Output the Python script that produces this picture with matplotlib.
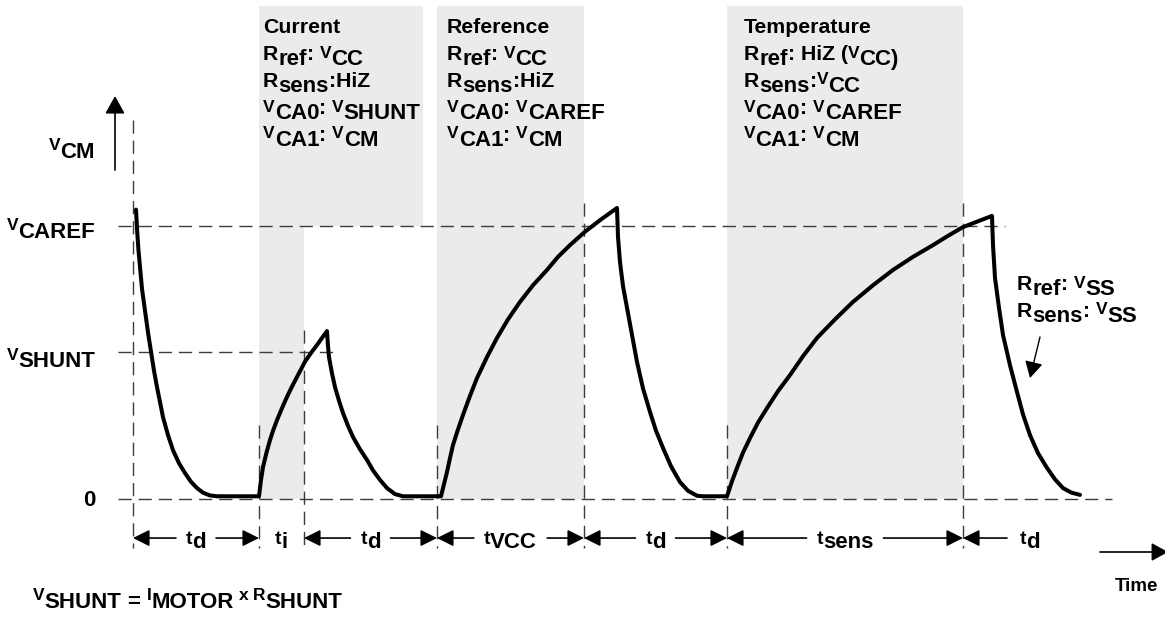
import matplotlib
matplotlib.use('Agg')
import matplotlib.pyplot as plt
from matplotlib.font_manager import FontProperties
from matplotlib.transforms import Affine2D, offset_copy

# ---------------- data ----------------
V_CAREF = 1.0
V_SHUNT = 0.538
V_ZERO = 0.0

# phase boundaries (time, arbitrary units) and the duration labels between them
phase_bounds = [0.0, 12.6, 17.1, 30.4, 45.1, 59.4, 83.0]
phase_subs = ['d', 'i', 'd', 'VCC', 'd', 'sens', 'd']

# capacitor voltage V_CM (V_CAREF = 1)
decay1_t = [0.3, 0.4, 0.55, 0.7, 0.9, 1.2, 1.5, 1.8, 2.1, 2.4, 2.7, 3.0, 3.5, 4.0,
            4.6, 5.2, 5.8, 6.4, 7.0, 7.7, 8.4, 12.6]
decay1_v = [1.06, 0.99, 0.91, 0.85, 0.77, 0.69, 0.61, 0.54, 0.47, 0.41, 0.355, 0.30,
            0.234, 0.179, 0.131, 0.095, 0.063, 0.040, 0.023, 0.013, 0.01, 0.01]
rise1_t = [12.6, 12.8, 13.0, 13.35, 13.7, 14.0, 14.4, 14.9, 15.4, 15.9, 16.4, 17.2,
           17.8, 18.4, 18.9, 19.4]
rise1_v = [0.01, 0.07, 0.117, 0.17, 0.216, 0.25, 0.289, 0.333, 0.374, 0.412, 0.447,
           0.503, 0.535, 0.564, 0.59, 0.615]
decay2_t = [19.4, 19.5, 19.6, 19.9, 20.2, 20.6, 21.0, 21.5, 22.0, 22.7, 23.4, 24.0,
            24.7, 25.4, 26.2, 27.0, 30.8]
decay2_v = [0.615, 0.56, 0.52, 0.46, 0.41, 0.36, 0.315, 0.268, 0.227, 0.182, 0.143,
            0.105, 0.070, 0.040, 0.018, 0.01, 0.01]
rise2_t = [30.8, 31.1, 31.4, 31.7, 32.0, 32.5, 33.0, 33.7, 34.4, 35.4, 36.4, 37.5,
           38.7, 40.0, 41.4, 42.5, 43.7, 45.2, 46.8, 48.4]
rise2_v = [0.01, 0.055, 0.099, 0.15, 0.198, 0.255, 0.308, 0.378, 0.443, 0.52, 0.590,
           0.658, 0.722, 0.783, 0.839, 0.887, 0.930, 0.979, 1.024, 1.066]
decay3_t = [48.4, 48.5, 48.7, 49.0, 49.4, 49.9, 50.4, 51.0, 51.7, 52.3, 53.0, 53.8,
            54.7, 55.5, 56.4, 57.0, 59.4]
decay3_v = [1.066, 0.96, 0.868, 0.78, 0.700, 0.60, 0.502, 0.405, 0.319, 0.25, 0.187,
            0.12, 0.062, 0.03, 0.012, 0.01, 0.01]
rise3_t = [59.4, 59.9, 60.4, 61.0, 61.7, 62.5, 63.4, 64.5, 65.7, 67.0, 68.4, 70.2,
           72.0, 74.0, 76.0, 78.0, 80.0, 81.5, 83.0, 84.5, 85.9]
rise3_v = [0.01, 0.065, 0.114, 0.17, 0.223, 0.28, 0.333, 0.395, 0.454, 0.523, 0.590,
           0.658, 0.722, 0.783, 0.839, 0.887, 0.930, 0.964, 0.996, 1.017, 1.037]
decay4_t = [85.9, 86.0, 86.2, 86.6, 87.0, 87.7, 88.4, 89.0, 89.7, 90.5, 91.4, 92.2,
            93.0, 93.8, 94.7]
decay4_v = [1.037, 0.93, 0.810, 0.70, 0.601, 0.49, 0.392, 0.31, 0.234, 0.168, 0.114,
            0.072, 0.040, 0.024, 0.015]

# shaded measurement windows: (t_start, t_end, v_bottom)
shade_t0 = [12.6, 12.6, 30.4, 59.4]
shade_t1 = [29.0, 17.1, 45.1, 83.0]
shade_v0 = [V_CAREF, 0.0, 0.0, 0.0]
V_TOP = 1.806

# dashed guide lines
hline_levels = [V_CAREF, V_SHUNT, V_ZERO]
hline_end = [87.2, 20.4, 97.9]
vline_top = [1.388, 0.271, 0.619, 0.271, 1.084, 0.271, 1.084]

# texts (segments: (text, style)); N = main, S = subscript, v = small raised V
panel_current = [[('Current', 'N')],
                 [('R', 'N'), ('ref', 'S'), (': ', 'N'), ('V', 'v'), ('CC', 'S')],
                 [('R', 'N'), ('sens', 'S'), (':HiZ', 'N')],
                 [('V', 'v'), ('CA0', 'S'), (': ', 'N'), ('V', 'v'), ('SHUNT', 'S')],
                 [('V', 'v'), ('CA1', 'S'), (': ', 'N'), ('V', 'v'), ('CM', 'S')]]
panel_reference = [[('Reference', 'N')],
                   [('R', 'N'), ('ref', 'S'), (': ', 'N'), ('V', 'v'), ('CC', 'S')],
                   [('R', 'N'), ('sens', 'S'), (':HiZ', 'N')],
                   [('V', 'v'), ('CA0', 'S'), (': ', 'N'), ('V', 'v'), ('CAREF', 'S')],
                   [('V', 'v'), ('CA1', 'S'), (': ', 'N'), ('V', 'v'), ('CM', 'S')]]
panel_temperature = [[('Temperature', 'N')],
                     [('R', 'N'), ('ref', 'S'), (': HiZ (', 'N'), ('V', 'v'), ('CC)', 'S')],
                     [('R', 'N'), ('sens', 'S'), (':', 'N'), ('V', 'v'), ('CC', 'S')],
                     [('V', 'v'), ('CA0', 'S'), (': ', 'N'), ('V', 'v'), ('CAREF', 'S')],
                     [('V', 'v'), ('CA1', 'S'), (': ', 'N'), ('V', 'v'), ('CM', 'S')]]
discharge_note = [[('R', 'N'), ('ref', 'S'), (': ', 'N'), ('V', 'v'), ('SS', 'S')],
                  [('R', 'N'), ('sens', 'S'), (': ', 'N'), ('V', 'v'), ('SS', 'S')]]
ylabels = [[('V', 'v'), ('CM', 'S')],
           [('V', 'v'), ('CAREF', 'S')],
           [('V', 'v'), ('SHUNT', 'S')],
           [('0', 'S')]]
formula = [('V', 'v'), ('SHUNT', 'S'), (' = ', 'S'), ('I', 'v'), ('MOTOR', 'S'),
           (' x ', 'v'), ('R', 'v'), ('SHUNT', 'S')]
time_label = [('Time', 'L')]

# ---------------- drawing ----------------
plt.rcParams['lines.scale_dashes'] = False
FONT = 'Liberation Sans'
GRAY = '#ebebeb'
DASHC = '#3c3c3c'
DASH = (0, (9.5, 5.0))
STY = {'N': (15.3, 5), 'S': (16.0, 0), 'v': (12.5, 7.5), 'L': (13.5, 0)}

fig = plt.figure(figsize=(11.65, 6.2), dpi=100)
ax = fig.add_axes([0, 0, 1, 1])
ax.set_xlim(-13.3, 103.2)
ax.set_ylim(-0.4432, 1.8278)
ax.axis('off')
renderer = fig.canvas.get_renderer()
PIX = Affine2D().scale(1, -1).translate(0, 620)   # pixel coords, origin top-left


def text_w(s, prop):
    wb = renderer.get_text_width_height_descent('||', prop, ismath=False)[0]
    w = renderer.get_text_width_height_descent('|' + s + '|', prop, ismath=False)[0]
    return w - wb


def rich(x, y, parts, trans, ha='left', styles=STY):
    items, total = [], 0.0
    for s, st in parts:
        size, rise = styles[st]
        prop = FontProperties(family=FONT, weight='bold', size=size)
        lead = len(s) - len(s.lstrip(' '))
        dx = text_w(' ' * lead, prop) if lead else 0.0
        items.append((s.strip(' '), prop, rise, total + dx))
        total += text_w(s, prop)
    shift = {'left': 0.0, 'center': -total / 2, 'right': -total}[ha]
    for s, prop, rise, dx in items:
        if s:
            tr = offset_copy(trans, fig=fig, x=dx + shift, y=rise, units='dots')
            ax.text(x, y, s, transform=tr, fontproperties=prop, va='baseline',
                    ha='left', color='black')
    return total


# shading
for t0, t1, v0 in zip(shade_t0, shade_t1, shade_v0):
    ax.fill_between([t0, t1], [v0, v0], [V_TOP, V_TOP], color=GRAY, lw=0, zorder=0)

# dashed guides
for lev, tend in zip(hline_levels, hline_end):
    ax.plot([-1.5, tend], [lev, lev], color=DASHC, lw=1.0, linestyle=DASH, zorder=1)
for tb, top in zip(phase_bounds, vline_top):
    ax.plot([tb, tb], [top, -0.179], color=DASHC, lw=1.0, linestyle=DASH, zorder=1)

# waveform
curve_t = decay1_t + rise1_t + decay2_t + rise2_t + decay3_t + rise3_t + decay4_t
curve_v = decay1_v + rise1_v + decay2_v + rise2_v + decay3_v + rise3_v + decay4_v
ax.plot(curve_t, curve_v, color='black', lw=2.9, solid_joinstyle='round',
        solid_capstyle='round', zorder=3)

# axis arrows
ax.annotate('', xy=(115, 96), xytext=(115, 170), xycoords=PIX, textcoords=PIX,
            arrowprops=dict(arrowstyle='-|>,head_length=1.08,head_width=0.6',
                            color='black', lw=1.2, shrinkA=0, shrinkB=0,
                            mutation_scale=10))
ax.annotate('', xy=(1168, 552), xytext=(1100, 552), xycoords=PIX, textcoords=PIX,
            arrowprops=dict(arrowstyle='-|>,head_length=1.0,head_width=0.55',
                            color='black', lw=1.2, shrinkA=0, shrinkB=0,
                            mutation_scale=10))
rich(1115, 591, time_label, PIX)

# dimension arrows with t_x labels
Y_DIM = -0.143
Y_LAB = -0.179
ppu = ax.transData.transform((1, 0))[0] - ax.transData.transform((0, 0))[0]
DIM_STY = {'T': (14.0, 4), 'S': (16.0, 0)}
GAP = 10.0
ends = phase_bounds[1:] + [None]
arrow_kw = dict(arrowstyle='-|>,head_length=1.0,head_width=0.5', color='black',
                lw=1.2, shrinkA=0, shrinkB=0, mutation_scale=10)
for t0, t1, sub in zip(phase_bounds, ends, phase_subs):
    parts = [('t', 'T'), (sub, 'S')]
    if t1 is None:
        t_line_end = t0 + 44 / ppu
        ax.annotate('', xy=(t0, Y_DIM), xytext=(t_line_end, Y_DIM), arrowprops=arrow_kw)
        rich(t0 + 57 / ppu, Y_LAB, parts, ax.transData, ha='left', styles=DIM_STY)
        continue
    tc = (t0 + t1) / 2
    w = 0.0
    for s, st in parts:
        w += text_w(s, FontProperties(family=FONT, weight='bold', size=DIM_STY[st][0]))
    if (t1 - t0) * ppu > w + 2 * GAP + 30:
        ax.annotate('', xy=(t0, Y_DIM), xytext=(tc - (w / 2 + GAP) / ppu, Y_DIM),
                    arrowprops=arrow_kw)
        ax.annotate('', xy=(t1, Y_DIM), xytext=(tc + (w / 2 + GAP) / ppu, Y_DIM),
                    arrowprops=arrow_kw)
    rich(tc, Y_LAB, parts, ax.transData, ha='center', styles=DIM_STY)

# panel texts
LINE_BASE = [38, 65, 92, 119, 146]
for px, panel in zip([263, 447, 744], [panel_current, panel_reference, panel_temperature]):
    for i, line in enumerate(panel):
        rich(px, LINE_BASE[i], line, PIX)

# discharge note with arrow
for i, line in enumerate(discharge_note):
    rich(1017, 295 + 27 * i, line, PIX)
ax.annotate('', xy=(1030, 378), xytext=(1040, 337), xycoords=PIX, textcoords=PIX,
            arrowprops=dict(arrowstyle='-|>,head_length=1.0,head_width=0.55',
                            color='black', lw=1.0, shrinkA=0, shrinkB=0,
                            mutation_scale=10))

# y-level labels
for line, base in zip(ylabels, [158, 238, 367, 506]):
    rich(95, base, line, PIX, ha='right')

# formula
rich(33, 608, formula, PIX)

fig.savefig('out.png', dpi=100)
